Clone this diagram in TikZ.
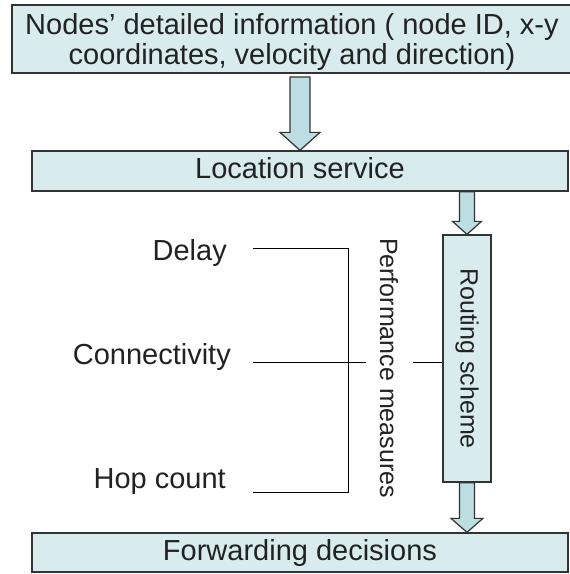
\documentclass[tikz,border=0pt]{standalone}
\usepackage{fontspec}
\setmainfont{Liberation Sans}
\usetikzlibrary{calc}
\definecolor{boxfill}{HTML}{D8ECEE}
\definecolor{arrfill}{HTML}{BCDDE2}
\definecolor{edge}{HTML}{333333}
\definecolor{txt}{HTML}{222222}
\newcommand\blockarr[5]{%
  \draw[barr] ($(#1)+(-#3,0)$) -- ($(#2)+(-#3,-#5)$) -- ($(#2)+(-#4,-#5)$) -- (#2)
    -- ($(#2)+(#4,-#5)$) -- ($(#2)+(#3,-#5)$) -- ($(#1)+(#3,0)$) -- cycle;}
\begin{document}
\begin{tikzpicture}[x=1pt,y=-1pt,
  box/.style={draw=edge,line width=1.3pt,fill=boxfill,inner sep=0pt,text=txt},
  big/.style={font=\fontsize{29}{30}\selectfont},
  barr/.style={draw=edge,line width=1.2pt,fill=arrfill,line join=miter},
  lab/.style={text=txt,big,inner sep=0pt},
  vlab/.style={text=txt,font=\fontsize{25}{26}\selectfont,inner sep=0pt,rotate=-90},
  link/.style={draw=black,line width=1pt}]
\useasboundingbox[fill=white] (0,0) rectangle (570,574);
% boxes
\node[box,minimum width=560pt,minimum height=68pt,align=center,big,text depth=0pt] (info) at (292,39)
  {Nodes’ detailed information ( node ID, x-y\\coordinates, velocity and direction)};
\node[box,minimum width=536pt,minimum height=40pt,big,text height=21pt,text depth=6pt]
  (loc) at (300,171) {Location service};
\node[box,minimum width=48pt,minimum height=247pt] (route) at (467,358.5) {};
\node[vlab] (routet) at (route.center) {Routing scheme};
\node[box,minimum width=536pt,minimum height=39pt,big,text height=21pt,text depth=6pt]
  (fwd) at (300,552.5) {Forwarding decisions};
% labels
\node[lab,anchor=base east] (delay) at (227,260) {Delay};
\node[lab,anchor=base east] (conn) at (231,364) {Connectivity};
\node[lab,anchor=base east] (hop) at (226,488) {Hop count};
\node[vlab] (perf) at (389,368) {Performance measures};
% bracket
\coordinate (d0) at (253,248);
\coordinate (bt) at (348,248);
\coordinate (bb) at (348,492);
\coordinate (h0) at (253,492);
\coordinate (c0) at (253,362);
\coordinate (c1) at (366,362);
\coordinate (c2) at (413,362);
\draw[link] (d0) -- (bt) -- (bb) -- (h0);
\draw[link] (c0) -- (c1);
\draw[link] (c2) -- (route.west |- c2);
% arrows
\coordinate (a1s) at (300,77);
\blockarr{a1s}{loc.north -| a1s}{10}{20}{18}
\blockarr{loc.south -| route.center}{route.north}{7.5}{14.5}{13}
\blockarr{route.south}{fwd.north -| route.south}{7.5}{16}{14}
\end{tikzpicture}
\end{document}
